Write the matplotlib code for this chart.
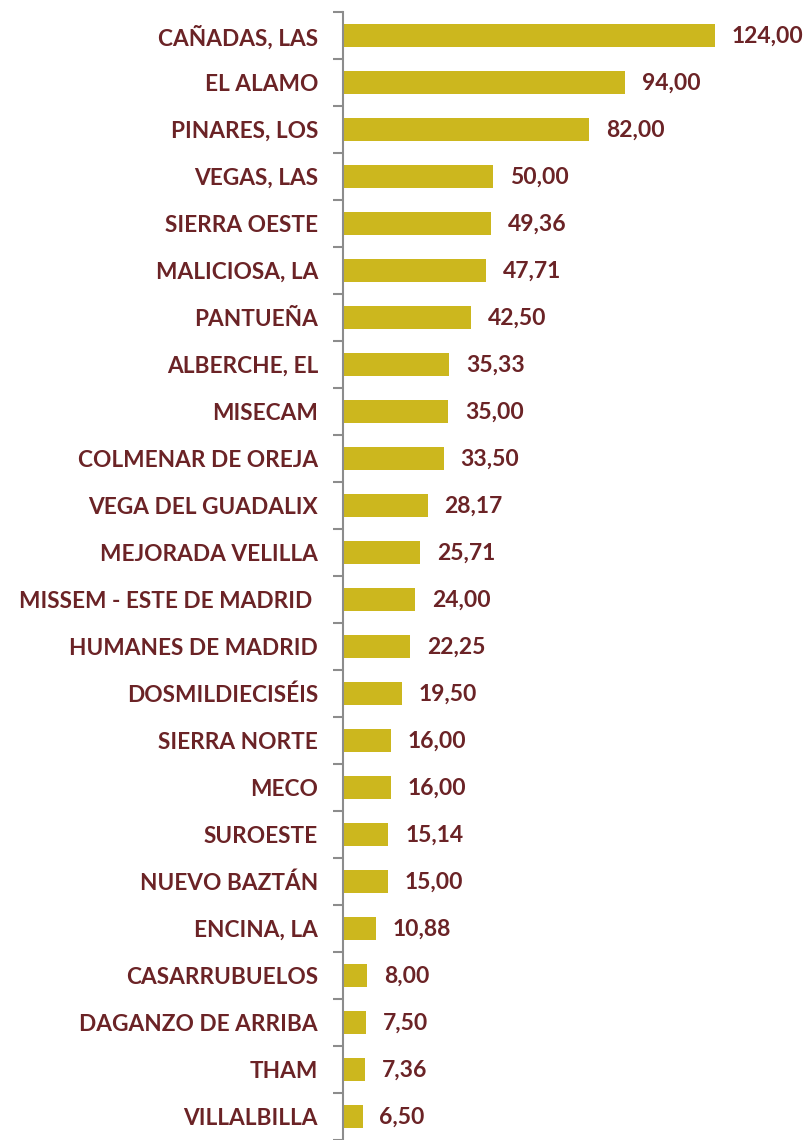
import matplotlib.pyplot as plt

names = ["CAÑADAS, LAS", "EL ALAMO", "PINARES, LOS", "VEGAS, LAS", "SIERRA OESTE",
         "MALICIOSA, LA", "PANTUEÑA", "ALBERCHE, EL", "MISECAM", "COLMENAR DE OREJA",
         "VEGA DEL GUADALIX", "MEJORADA VELILLA", "MISSEM - ESTE DE MADRID ",
         "HUMANES DE MADRID", "DOSMILDIECISÉIS", "SIERRA NORTE", "MECO", "SUROESTE",
         "NUEVO BAZTÁN", "ENCINA, LA", "CASARRUBUELOS", "DAGANZO DE ARRIBA", "THAM",
         "VILLALBILLA"]
values = [124.00, 94.00, 82.00, 50.00, 49.36, 47.71, 42.50, 35.33, 35.00, 33.50,
          28.17, 25.71, 24.00, 22.25, 19.50, 16.00, 16.00, 15.14, 15.00, 10.88,
          8.00, 7.50, 7.36, 6.50]

bar_color = "#CCB71E"
text_color = "#6B2326"

plt.rcParams['font.family'] = ['Lato', 'DejaVu Sans']

fig = plt.figure(figsize=(8.07, 11.40), dpi=100)
ax = fig.add_axes([343 / 807, 0, 1 - 343 / 807, 1 - 12 / 1140])

pos = list(range(len(names)))
ax.barh(pos, values, height=0.5, color=bar_color)

for p, v in zip(pos, values):
    ax.annotate(f"{v:.2f}".replace(".", ","), (v, p), xytext=(17, -1),
                textcoords="offset pixels", va="center", ha="left",
                color=text_color, fontsize=16.5, fontweight="bold")

ax.set_xlim(0, (807 - 343) / 3.0)
ax.set_ylim((1140 - 12) / 47.35 - 0.5, -0.5)

ax.set_yticks([p - 0.5 for p in pos] + [len(pos) - 0.5])
ax.set_yticklabels([])
ax.set_yticks(pos, minor=True)
ax.set_yticklabels(names, minor=True, color=text_color, fontsize=16.3, fontweight="bold")
ax.tick_params(axis="y", which="major", length=7, width=1.5, color="#8c8c8c")
ax.tick_params(axis="y", which="minor", length=0, pad=18)
ax.set_xticks([])
for s in ["top", "right", "bottom"]:
    ax.spines[s].set_visible(False)
ax.spines["left"].set_color("#8c8c8c")
ax.spines["left"].set_linewidth(1.5)

fig.savefig("out.png", dpi=100)
